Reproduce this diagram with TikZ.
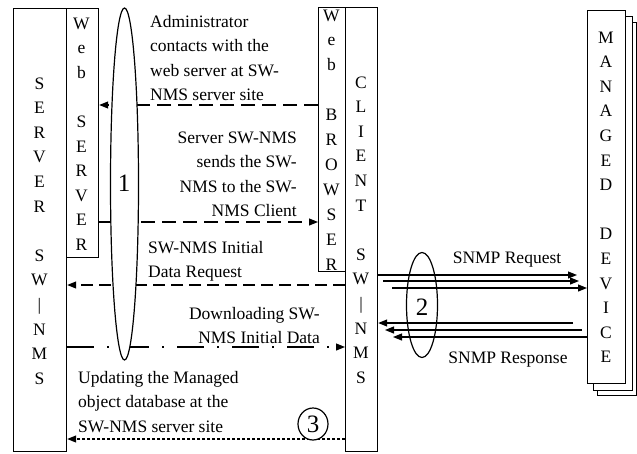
\documentclass[tikz,border=0pt]{standalone}
\usepackage{fontspec}
\setmainfont{Liberation Serif}
\usetikzlibrary{arrows.meta,shapes.geometric}
\begin{document}
\begin{tikzpicture}[x=1pt,y=-1pt,
  txt/.style={inner sep=0pt, font=\fontsize{17.5}{24.6}\selectfont},
  num/.style={inner sep=0pt, font=\fontsize{25}{28}\selectfont},
  box/.style={draw, line width=1.2pt, fill=white, inner sep=0pt, anchor=north west},
  arr/.style={-{Triangle[length=9pt,width=7pt]}, line width=1.1pt},
  longdash/.style={dash pattern=on 14pt off 7pt},
  dashdot/.style={dash pattern=on 27pt off 13pt on 2pt off 13pt},
  finedot/.style={dash pattern=on 3pt off 2pt},
 ]
\useasboundingbox (0,0) rectangle (637,453);

% boxes
\node[box, minimum width=53pt, minimum height=443pt] (server) at (13,8) {};
\node[box, minimum width=32pt, minimum height=249pt] (webserver) at (66,8) {};
\node[box, minimum width=27pt, minimum height=264pt] (browser) at (318,7) {};
\node[box, minimum width=32pt, minimum height=444pt] (client) at (345,7) {};
\node[box, minimum width=39pt, minimum height=373pt] (device3) at (597,22) {};
\node[box, minimum width=39pt, minimum height=374pt] (device2) at (593,16) {};
\node[box, minimum width=38pt, minimum height=373pt] (device) at (587,10) {};

% vertical letter stacks (anchor = baseline of last line)
\node[txt, align=center, anchor=base] (lserver) at (39.5,384.2) {S\\E\\R\\V\\E\\R\\~\\S\\W\\|\\N\\M\\S};
\node[txt, align=center, anchor=base] (lwebserver) at (81.5,250.4) {W\\e\\b\\~\\S\\E\\R\\V\\E\\R};
\node[txt, align=center, anchor=base, font=\fontsize{17.5}{24.9}\selectfont] (lbrowser) at (331.5,270) {W\\e\\b\\~\\B\\R\\O\\W\\S\\E\\R};
\node[txt, align=center, anchor=base] (lclient) at (361,383.2) {C\\L\\I\\E\\N\\T\\~\\S\\W\\|\\N\\M\\S};
\node[txt, align=center, anchor=base] (ldevice) at (606,362.8) {M\\A\\N\\A\\G\\E\\D\\~\\D\\E\\V\\I\\C\\E};

% message labels
\node[txt, align=left, anchor=base west] (t1) at (150,100.8) {Administrator\\contacts with the\\web server at SW-\\NMS server site};
\node[txt, align=right, anchor=base east] (t2) at (297,216.8) {Server SW-NMS\\sends the SW-\\NMS to the SW-\\NMS Client};
\node[txt, align=left, anchor=base west] (t3) at (148,277.6) {SW-NMS Initial\\Data Request};
\node[txt, align=right, anchor=base east] (t4) at (320,343.6) {Downloading SW-\\NMS Initial Data};
\node[txt, align=left, anchor=base west] (t5) at (78,432.2) {Updating the Managed\\object database at the\\SW-NMS server site};
\node[txt, anchor=base] (t6) at (507,263) {SNMP Request};
\node[txt, anchor=base] (t7) at (508,363) {SNMP Response};

% phase 1 messages
\draw[arr, longdash] (browser.west |- 0,105) -- (webserver.east |- 0,105);
\draw[arr, longdash] (webserver.east |- 0,222) -- (browser.west |- 0,222);
\draw[arr, dash pattern=on 12pt off 6pt] (client.west |- 0,285) -- (server.east |- 0,285);
\draw[arr, dashdot] (server.east |- 0,347) -- (client.west |- 0,347);

% phase 1 group
\node[draw, ellipse, fill=white, line width=1.2pt, minimum width=28pt, minimum height=352pt] (e1) at (124.5,184) {};
\node[num] (n1) at (124,183.5) {1};

% phase 3
\draw[arr, finedot] (client.west |- 0,439) -- (server.east |- 0,439);
\node[draw, ellipse, fill=white, line width=1.2pt, minimum width=30pt, minimum height=32pt, inner sep=0pt] (c3) at (313,424) {};
\node[num] (n3) at (313,424) {3};

% SNMP
\coordinate (rq1) at (577,275);
\coordinate (rq2s) at (383,281);
\coordinate (rq2e) at (579,281);
\coordinate (rq3s) at (392,288);
\coordinate (rs1s) at (573,323);
\coordinate (rs2s) at (582,330);
\coordinate (rs2e) at (385,330);
\coordinate (rs3e) at (393,337);
\draw[arr] (client.east |- rq1) -- (rq1);
\draw[arr] (rq2s) -- (rq2e);
\draw[arr] (rq3s) -- (device.west |- rq3s);
\draw[arr] (rs1s) -- (client.east |- rs1s);
\draw[arr] (rs2s) -- (rs2e);
\draw[arr] (device.west |- rs3e) -- (rs3e);
\node[draw, ellipse, line width=1.2pt, minimum width=31pt, minimum height=105pt] (e2) at (422,305) {};
\node[num] (n2) at (422,307) {2};
\end{tikzpicture}
\end{document}
